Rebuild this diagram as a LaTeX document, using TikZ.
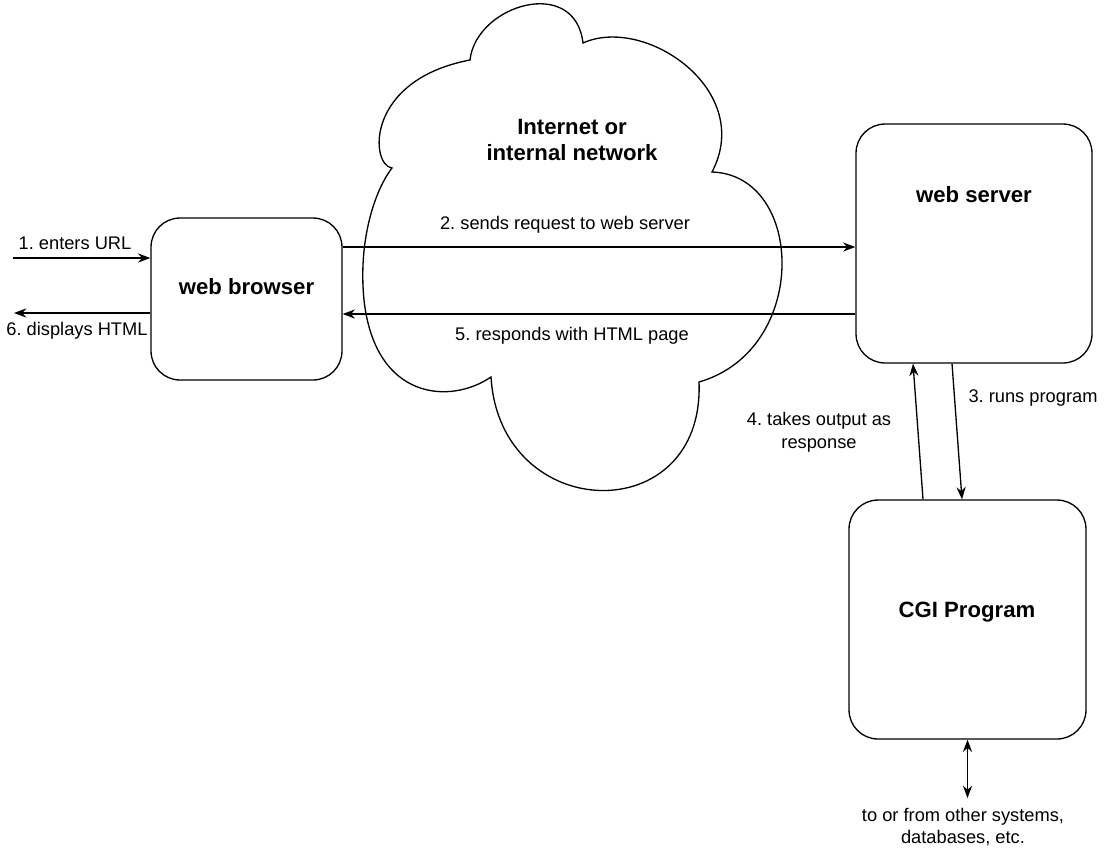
\documentclass[tikz,border=0pt]{standalone}
\usepackage{fontspec}
\setmainfont{Liberation Sans}
\usetikzlibrary{arrows.meta}
\frenchspacing

\begin{document}
\begin{tikzpicture}[x=0.02cm,y=-0.02cm,line width=0.75pt,
  box/.style={draw,rounded corners=0.58cm,inner sep=0pt},
  title/.style={font=\fontsize{12.6}{15}\selectfont\bfseries,align=center,inner sep=0pt},
  note/.style={font=\fontsize{10.4}{13}\selectfont,align=center,inner sep=0pt},
  >={Stealth[length=7pt,width=5.2pt]}]
\useasboundingbox (0,0) rectangle (1105,850);

% the network cloud
\draw (470,60) .. controls (476,5) and (575,-25) .. (583,43)
  .. controls (645,15) and (755,90) .. (712,172)
  .. controls (805,175) and (810,350) .. (699,382)
  .. controls (705,530) and (500,525) .. (491,377)
  .. controls (450,405) and (375,400) .. (364,300)
  .. controls (358,240) and (375,190) .. (392,168)
  .. controls (370,165) and (365,80) .. (470,60) -- cycle;
\node[title] (net) at (572,140) {Internet or\\internal network};

% the boxes
\node[box,minimum width=3.82cm,minimum height=3.24cm] (browser) at (246.5,299) {};
\node[box,minimum width=4.72cm,minimum height=4.78cm] (server) at (974,243.5) {};
\node[box,minimum width=4.74cm,minimum height=4.78cm] (cgi) at (967.5,619.5) {};
\node[title] (browsertxt) at (246.5,287) {web browser};
\node[title] (servertxt) at (974,195) {web server};
\node[title] (cgitxt) at (967,612) {CGI Program};

% free ends and rows
\coordinate (url) at (13,258);
\coordinate (html) at (14,313);
\coordinate (req) at (0,247);
\coordinate (resp) at (0,314);
\coordinate (ext) at (967,798);

\draw[->] (url) -- (browser.west |- url);
\draw[->] (browser.west |- html) -- (html);
\draw[->] (browser.east |- req) -- (server.west |- req);
\draw[->] (server.west |- resp) -- (browser.east |- resp);
\draw[->] ([xshift=-0.44cm]server.south) -- ([xshift=-0.11cm]cgi.north);
\draw[->] ([xshift=-0.89cm]cgi.north) -- ([xshift=-1.22cm]server.south);
\draw[<->] (cgi.south) -- (cgi.south |- ext);

% labels
\node[note] (l1) at (75,243) {1. enters URL};
\node[note] (l6) at (77,331) {6. displays HTML};
\node[note] (l2) at (565,225) {2. sends request to web server};
\node[note] (l5) at (572,336) {5. responds with HTML page};
\node[note] (l3) at (1033,398) {3. runs program};
\node[note] (l4) at (819,432) {4. takes output as\\response};
\node[note] (ldb) at (963,827) {to or from other systems,\\databases, etc.};
\end{tikzpicture}
\end{document}
